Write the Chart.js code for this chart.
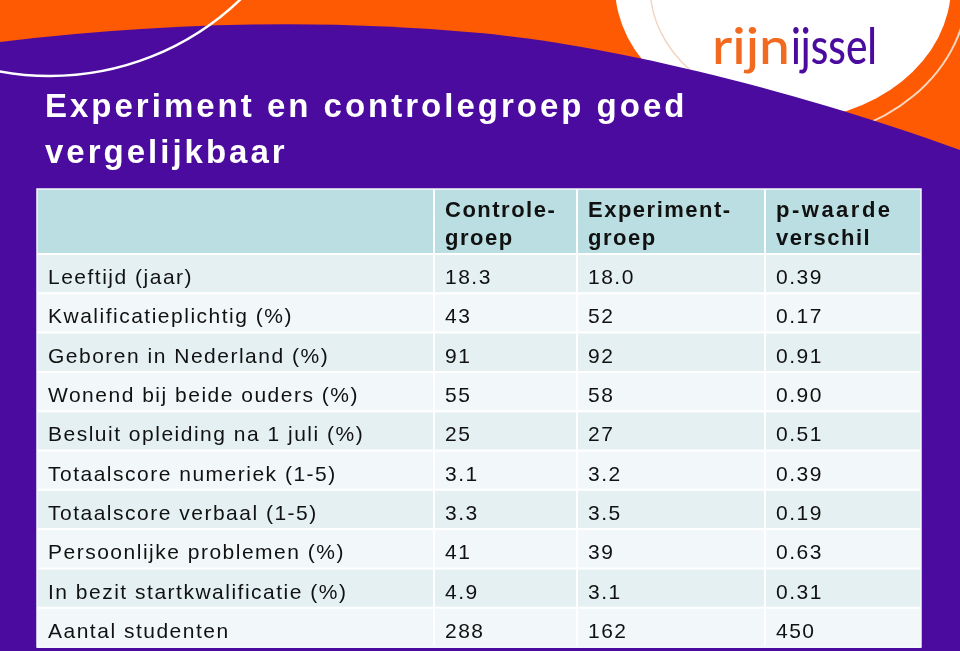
<!DOCTYPE html>
<html><head><meta charset="utf-8">
<script src="https://cdn.jsdelivr.net/npm/chart.js@4.4.1/dist/chart.umd.min.js"></script>
<style>html,body{margin:0;padding:0;background:#4b0b9f;overflow:hidden}#wrap{position:relative;width:960px;height:651px}</style>
</head><body><div id="wrap"><canvas id="c" width="960" height="651"></canvas></div>
<script>
// ---- data ----
const titleLines = ['Experiment en controlegroep goed', 'vergelijkbaar'];
const columnHeaders = [[], ['Controle-', 'groep'], ['Experiment-', 'groep'], ['p-waarde', 'verschil']];
const rowLabels = [
  'Leeftijd (jaar)',
  'Kwalificatieplichtig (%)',
  'Geboren in Nederland (%)',
  'Wonend bij beide ouders (%)',
  'Besluit opleiding na 1 juli (%)',
  'Totaalscore numeriek (1-5)',
  'Totaalscore verbaal (1-5)',
  'Persoonlijke problemen (%)',
  'In bezit startkwalificatie (%)',
  'Aantal studenten'
];
const controleGroep   = ['18.3', '43', '91', '55', '25', '3.1', '3.3', '41', '4.9', '288'];
const experimentGroep = ['18.0', '52', '92', '58', '27', '3.2', '3.5', '39', '3.1', '162'];
const pWaardeVerschil = ['0.39', '0.17', '0.91', '0.90', '0.51', '0.39', '0.19', '0.63', '0.31', '450'];
const logoParts = ['rijn', 'ijssel'];

// ---- layout (not data) ----
const COL_EDGES = [0, 397, 540, 728, 884];   // x-scale units
const HEADER_SPAN = 1.654;                   // header height in row units
const ORANGE = '#fe5a03', PURPLE = '#4b0b9f';

const bgPlugin = {
  id: 'slideBg',
  beforeDraw(chart) {
    const c = chart.ctx;
    c.save();
    c.fillStyle = ORANGE; c.fillRect(0, 0, 960, 651);
    // white circle with logo
    c.fillStyle = '#ffffff';
    c.beginPath(); c.ellipse(783, -14, 168, 135, 0, 0, Math.PI * 2); c.fill();
    // faint peach arcs
    c.save(); c.beginPath(); c.rect(600, 0, 110, 120); c.clip();
    c.strokeStyle = '#f2d6c4'; c.lineWidth = 1.5;
    c.beginPath(); c.ellipse(790, -14, 140, 120, 0, 0, Math.PI * 2); c.stroke(); c.restore();
    c.save(); c.beginPath(); c.rect(840, 0, 120, 160); c.clip();
    c.strokeStyle = '#fbd6bf'; c.lineWidth = 2;
    c.beginPath(); c.ellipse(783, -14, 185, 155, 0, 0, Math.PI * 2); c.stroke(); c.restore();
    // logo
    const drawFit = (txt, x, w, base, color) => {
      c.font = '500 50px Lato';
      const m = c.measureText(txt).width;
      c.save(); c.translate(x, base); c.scale(w / m, 1);
      c.fillStyle = color; c.fillText(txt, 0, 0); c.restore();
    };
    drawFit(logoParts[0], 712, 78, 64, '#f26a1f');
    drawFit(logoParts[1], 791, 86, 64, PURPLE);
    // purple body
    c.fillStyle = PURPLE;
    c.beginPath();
    c.moveTo(0, 42);
    c.quadraticCurveTo(250, 12, 480, 33);
    c.bezierCurveTo(600, 44, 780, 85, 960, 150);
    c.lineTo(960, 651); c.lineTo(0, 651); c.closePath(); c.fill();
    // white arc top-left
    c.strokeStyle = '#ffffff'; c.lineWidth = 2.5;
    c.beginPath(); c.arc(50, -199, 275, 0, Math.PI); c.stroke();
    // title
    c.fillStyle = '#ffffff';
    c.font = 'bold 33px "Liberation Sans", Arial, sans-serif';
    c.letterSpacing = '3px';
    c.textBaseline = 'alphabetic'; c.textAlign = 'left';
    c.fillText(titleLines[0], 45, 117);
    c.fillText(titleLines[1], 45, 163);
    c.letterSpacing = '0px';
    c.restore();
  }
};

const tablePlugin = {
  id: 'table',
  afterDatasetsDraw(chart) {
    const c = chart.ctx, xs = chart.scales.x, ys = chart.scales.y;
    const px = v => xs.getPixelForValue(v), py = v => ys.getPixelForValue(v);
    const L = px(COL_EDGES[0]), R = px(COL_EDGES[COL_EDGES.length - 1]);
    c.save();
    // header
    c.fillStyle = '#badee2';
    c.fillRect(L, py(-HEADER_SPAN), R - L, py(0) - py(-HEADER_SPAN));
    rowLabels.forEach((lab, i) => {
      c.fillStyle = i % 2 === 0 ? '#e5f0f3' : '#f2f8f9';
      c.fillRect(L, py(i), R - L, py(i + 1) - py(i));
    });
    // grid lines
    c.strokeStyle = '#ffffff'; c.lineWidth = 2;
    for (let i = 0; i <= rowLabels.length; i++) {
      c.beginPath(); c.moveTo(L, py(i)); c.lineTo(R, py(i)); c.stroke();
    }
    for (let k = 1; k < COL_EDGES.length - 1; k++) {
      c.beginPath(); c.moveTo(px(COL_EDGES[k]), py(-HEADER_SPAN)); c.lineTo(px(COL_EDGES[k]), py(rowLabels.length)); c.stroke();
    }
    c.lineWidth = 1.5; c.strokeStyle = '#f4f8fb';
    c.strokeRect(L, py(-HEADER_SPAN), R - L, py(rowLabels.length) - py(-HEADER_SPAN));
    // header text
    c.fillStyle = '#111111'; c.textAlign = 'left'; c.textBaseline = 'alphabetic';
    c.font = 'bold 22px "Liberation Sans", Arial, sans-serif';
    const hTop = py(-HEADER_SPAN);
    columnHeaders.forEach((lines, k) => {
      lines.forEach((t, j) => {
        c.letterSpacing = (k === 3 && j === 0) ? '2.5px' : '1.5px';
        c.fillText(t, px(COL_EDGES[k]) + 11, hTop + 28 + j * 28);
      });
    });
    // body text
    c.font = '21px "Liberation Sans", Arial, sans-serif';
    c.letterSpacing = '1.5px';
    const cols = [rowLabels, controleGroep, experimentGroep, pWaardeVerschil];
    rowLabels.forEach((_, i) => {
      const base = (py(i) + py(i + 1)) / 2 + 10.5;
      cols.forEach((arr, k) => {
        c.fillText(arr[i], px(COL_EDGES[k]) + 11, base);
      });
    });
    c.letterSpacing = '0px';
    c.restore();
  }
};

new Chart(document.getElementById('c').getContext('2d'), {
  type: 'scatter',
  data: { datasets: [{ data: [], pointRadius: 0 }] },
  options: {
    responsive: false, animation: false,
    layout: { padding: { left: 37, top: 189, right: 39, bottom: 4 } },
    plugins: { legend: { display: false }, tooltip: { enabled: false } },
    scales: {
      x: { type: 'linear', min: COL_EDGES[0], max: COL_EDGES[COL_EDGES.length - 1], display: false },
      y: { type: 'linear', min: -HEADER_SPAN, max: rowLabels.length, reverse: true, display: false }
    }
  },
  plugins: [bgPlugin, tablePlugin]
});
</script>
</body></html>
